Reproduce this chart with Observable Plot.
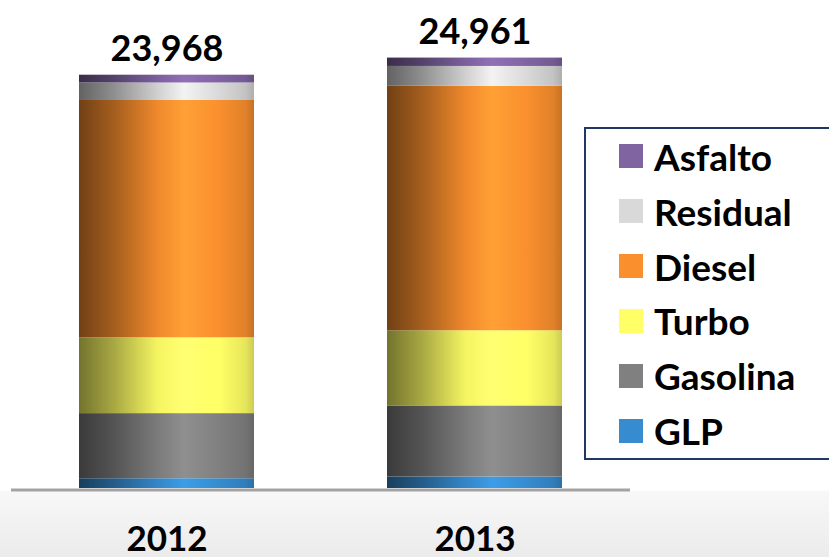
<!DOCTYPE html>
<html>
<head>
<meta charset="utf-8">
<script src="https://cdn.jsdelivr.net/npm/d3@7"></script>
<script src="https://cdn.jsdelivr.net/npm/@observablehq/plot@0.6"></script>
<style>
  html, body { margin: 0; padding: 0; }
  body {
    width: 829px; height: 557px; overflow: hidden; position: relative;
    background: linear-gradient(to bottom, #ffffff 0px, #ffffff 490px, #f8f8f8 491px, #ebebeb 557px);
    font-family: "Lato", "Open Sans", sans-serif;
  }
  #chart { position: absolute; left: 0; top: 0; }
  #legend {
    position: absolute; left: 584px; top: 127px; width: 270px; height: 333px;
    box-sizing: border-box; border: 2px solid #1f3864; background: #fff;
    display: flex; flex-direction: column; padding-left: 33px;
  }
  .row { flex: 1; display: flex; align-items: center; }
  .sw { width: 24px; height: 24px; margin-right: 11px; flex: none; }
  .lab { font-family: "Lato", sans-serif; font-weight: bold; font-size: 37px; line-height: 1; color: #000; }
</style>
</head>
<body>
<div id="chart"></div>
<div id="legend"></div>
<script>
const years = ["2012", "2013"];
const fuels = ["GLP", "Gasolina", "Turbo", "Diesel", "Residual", "Asfalto"];
const values2012 = [564, 3778, 4399, 13761, 1015, 451];
const values2013 = [666, 4120, 4362, 14177, 1151, 485];
const totals = [23968, 24961];
const colors = ["#368ccf", "#808080", "#ffff66", "#fa8f2e", "#d9d9d9", "#8064a2"];

const table = [];
years.forEach((y, j) => {
  const vals = j === 0 ? values2012 : values2013;
  fuels.forEach((f, i) => table.push({year: y, fuel: f, value: vals[i], idx: i}));
});
const totalRows = years.map((y, j) => ({year: y, total: totals[j]}));

const fmt = d3.format(",");

const plot = Plot.plot({
  width: 829,
  height: 557,
  marginLeft: 79,
  marginRight: 267,
  marginTop: 0,
  marginBottom: 69,
  style: {background: "transparent", fontFamily: "Lato, sans-serif", overflow: "visible"},
  x: {domain: years, paddingInner: 0.432, paddingOuter: 0, axis: null},
  y: {domain: [0, 28300], axis: null},
  marks: [
    Plot.barY(table, {x: "year", y: "value", fill: d => `url(#cyl${d.idx})`}),
    Plot.ruleY([0], {stroke: "#a3a3a3", strokeWidth: 3, dy: 1.5, insetLeft: -68, insetRight: -68}),
    Plot.text(totalRows, {x: "year", y: "total", text: d => fmt(d.total), dy: -14, lineAnchor: "bottom",
      fontSize: 36, fontWeight: "bold", fill: "#000"}),
    Plot.axisX({tickSize: 0, tickPadding: 38, fontSize: 35, fontWeight: "bold", fill: "#000", label: null})
  ]
});

// cylinder-like horizontal gradients
const stops = [[0, 0.45], [0.2, 0.66], [0.45, 0.96], [0.6, 1.12], [0.8, 1.0], [0.95, 0.9], [1, 0.8]];
const defs = d3.select(plot).insert("defs", ":first-child");
colors.forEach((c, i) => {
  const g = defs.append("linearGradient").attr("id", `cyl${i}`).attr("x1", 0).attr("x2", 1).attr("y1", 0).attr("y2", 0);
  const base = d3.rgb(c);
  stops.forEach(([o, k]) => {
    const col = d3.rgb(Math.min(255, base.r * k), Math.min(255, base.g * k), Math.min(255, base.b * k));
    g.append("stop").attr("offset", o).attr("stop-color", col.formatHex());
  });
});
document.getElementById("chart").appendChild(plot);

// legend (top to bottom = reverse stack order)
const legend = d3.select("#legend");
fuels.map((f, i) => ({f, c: colors[i]})).reverse().forEach(({f, c}) => {
  const row = legend.append("div").attr("class", "row");
  row.append("div").attr("class", "sw").style("background", c);
  row.append("div").attr("class", "lab").text(f);
});
</script>
</body>
</html>
